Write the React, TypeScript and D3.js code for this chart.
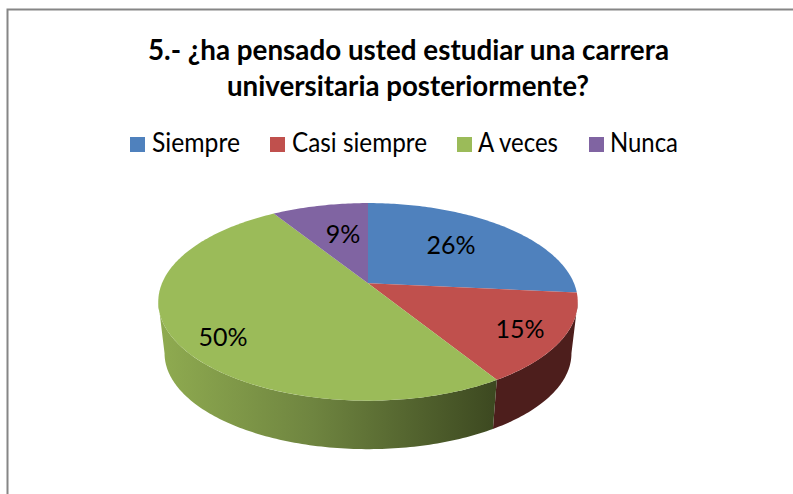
import React from "react";
import * as d3 from "d3";

const categories = ["Siempre", "Casi siempre", "A veces", "Nunca"];
const values = [26.5, 14.7, 49.9, 8.9];
const labels = ["26%", "15%", "50%", "9%"];
const colors = ["#4f81bd", "#c0504d", "#9bbb59", "#8064a2"];
const titleLines = ["5.- ¿ha pensado usted estudiar una carrera", "universitaria posteriormente?"];

const FONT = "Lato, Carlito, sans-serif";
const cx = 368, cy = 283.3, R = 206, A = 95.3, Q = 0.188;
const bottomScale = 0.97, bottomDy = 52;
const extreme = Math.acos(-Q); // angle of the rim's widest point, right side
const leftExtreme = 2 * Math.PI - extreme;

function project(t: number, s = 1, dy = 0): [number, number] {
  const u = Math.sin(t), v = -Math.cos(t), d = 1 - Q * v;
  return [cx + (s * R * u) / d, cy + dy + (s * A * v) / d];
}
function sample(a: number, b: number) {
  const n = Math.max(2, Math.ceil(Math.abs(b - a) * 60));
  return d3.range(n + 1).map((i) => a + ((b - a) * i) / n);
}
const pieGen = d3.pie<number>().sort(null)(values);
const line = d3.line();

const topPath = (a: number, b: number) =>
  line([[cx, cy] as [number, number], ...sample(a, b).map((t) => project(t))])! + "Z";
const sidePath = (a: number, b: number) =>
  line([
    ...sample(a, b).map((t) => project(t)),
    ...sample(b, a).map((t) => project(t, bottomScale, bottomDy)),
  ])! + "Z";

const titleLayout = [
  { x: 148, w: 521, y: 60 },
  { x: 227, w: 362, y: 96 },
];
const legendLayout = [
  { sq: 130, x: 152, w: 88 },
  { sq: 270, x: 292, w: 135 },
  { sq: 457, x: 478, w: 80 },
  { sq: 589, x: 610, w: 68 },
];
const labelLayout = [
  { x: 451, y: 245 },
  { x: 520, y: 329 },
  { x: 223, y: 337 },
  { x: 343, y: 234 },
];

export default function App() {
  const red = pieGen[1], green = pieGen[2];
  return (
    <svg width={793} height={494} style={{ position: "absolute", left: 0, top: 0, background: "#fff" }}>
      <defs>
        <linearGradient id="greenSide" gradientUnits="userSpaceOnUse" x1={160} x2={497} y1={0} y2={0}>
          <stop offset="0" stopColor="#8fab50" />
          <stop offset="0.45" stopColor="#6f8540" />
          <stop offset="1" stopColor="#3c4820" />
        </linearGradient>
      </defs>
      <path d="M793,9.5H7.5V494" fill="none" stroke="#868686" strokeWidth={2} />
      {titleLines.map((t, i) => (
        <text key={t} x={titleLayout[i].x} y={titleLayout[i].y} fontFamily={FONT} fontWeight={700} fontSize={29}
          textLength={titleLayout[i].w} lengthAdjust="spacingAndGlyphs" fill="#000">{t}</text>
      ))}
      {categories.map((c, i) => (
        <g key={c}>
          <rect x={legendLayout[i].sq} y={137} width={15} height={15} fill={colors[i]} />
          <text x={legendLayout[i].x} y={152} fontFamily={FONT} fontSize={26}
            textLength={legendLayout[i].w} lengthAdjust="spacingAndGlyphs" fill="#000">{c}</text>
        </g>
      ))}
      <path d={sidePath(extreme, red.endAngle)} fill="#4d1e1c" />
      <path d={sidePath(green.startAngle, leftExtreme)} fill="url(#greenSide)" />
      {pieGen.map((p, i) => (
        <path key={i} d={topPath(p.startAngle, p.endAngle)} fill={colors[i]} />
      ))}
      {labels.map((l, i) => (
        <text key={l} x={labelLayout[i].x} y={labelLayout[i].y} dy="0.35em" textAnchor="middle"
          fontFamily={FONT} fontSize={25} fill="#000">{l}</text>
      ))}
    </svg>
  );
}
